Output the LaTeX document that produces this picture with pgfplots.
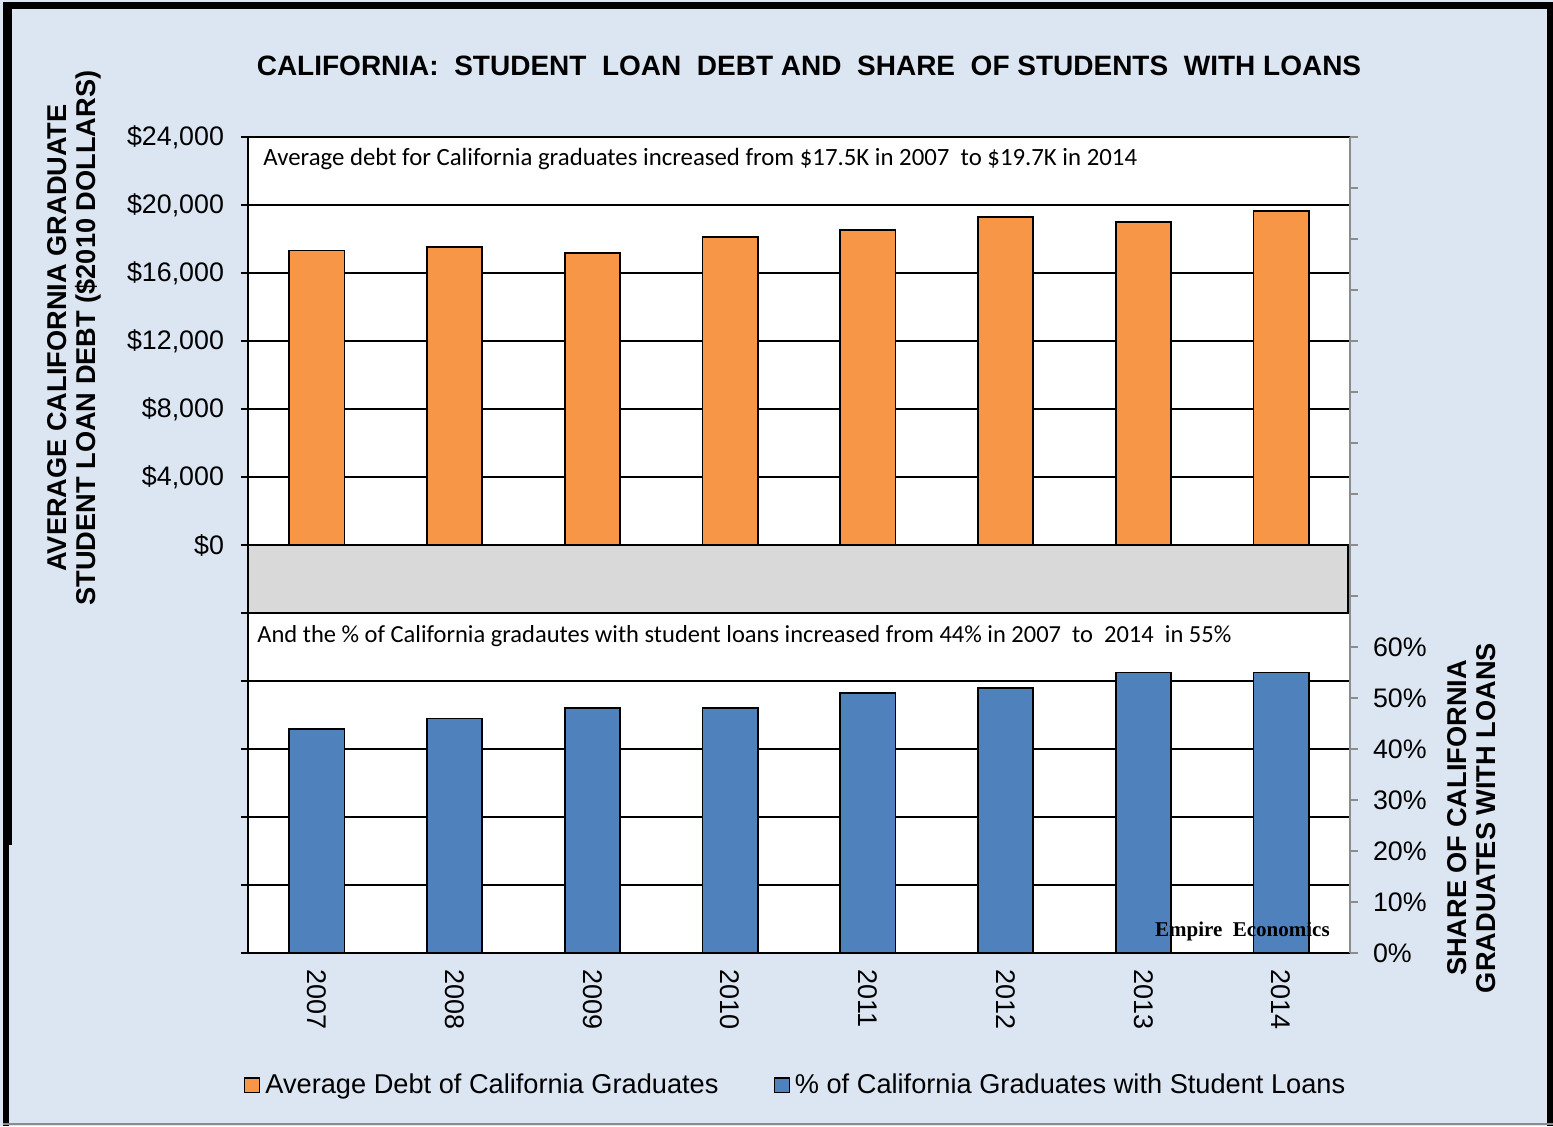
\documentclass[border=0pt]{standalone}
\usepackage{pgfplots}
\pgfplotsset{compat=1.18}
\usepackage{pgfplotstable}
\usepackage{fontspec}
\setmainfont{Liberation Sans}
\newfontfamily\calibri{Carlito}
\newfontfamily\timesf{Liberation Serif}
\definecolor{bgblue}{HTML}{DCE6F2}
\definecolor{barorange}{HTML}{F79646}
\definecolor{barblue}{HTML}{4F81BD}
\definecolor{bandgray}{HTML}{D9D9D9}
\definecolor{axgray}{HTML}{8C8C8C}

\pgfplotstableread{
x debt share
0 17320 44
1 17520 46
2 17200 48
3 18110 48
4 18530 51
5 19310 52
6 19020 55
7 19630 55
}\datatable

\pgfplotsset{
  sqleg/.style={legend image code/.code={\draw[##1,line width=0.6pt] (0pt,-3.6pt) rectangle (7.4pt,3.6pt);}},
}

\begin{document}
\begin{tikzpicture}
\useasboundingbox (0,0) rectangle (776.5pt,-563pt);
\begin{scope}[x=0.5pt,y=-0.5pt]
\fill[bgblue] (0,0) rectangle (1553,1126);
\fill[black] (3,2) rectangle (1553,9);
\fill[black] (3,2) rectangle (12,845);
\fill[black] (3,845) rectangle (9,1126);
\fill[black] (1547,2) rectangle (1553,1126);
\draw[axgray, line width=0.6pt] (3,1124) -- (1553,1124);
\node[font=\bfseries\fontsize{14}{16}\selectfont] at (809,66)
  {CALIFORNIA:\ \ STUDENT\ \ LOAN\ \ DEBT AND\ \ SHARE\ \ OF STUDENTS\ \ WITH LOANS};
\node[rotate=90, align=center, font=\bfseries\fontsize{13.6}{14.4}\selectfont] at (74,338)
  {AVERAGE CALIFORNIA GRADUATE\\STUDENT LOAN DEBT (\$2010 DOLLARS)};
\node[rotate=90, align=center, font=\bfseries\fontsize{13.6}{14.4}\selectfont] at (1472,818)
  {SHARE OF CALIFORNIA\\GRADUATES WITH LOANS};
\end{scope}

\begin{axis}[
  at={(124pt,-476.5pt)}, anchor=south west, scale only axis,
  width=551pt, height=408pt,
  xmin=-0.5, xmax=7.5, ymin=-24000, ymax=24000,
  ybar, bar width=0.4,
  axis background/.style={fill=white},
  ytick={-24000,-20000,...,24000},
  yticklabels={,,,,,,{\$0},{\$4,000},{\$8,000},{\$12,000},{\$16,000},{\$20,000},{\$24,000}},
  ytick pos=left, tick align=center, major tick length=7pt,
  ymajorgrids, grid style={black, line width=0.75pt},
  xtick={0,1,2,3,4,5,6,7},
  xticklabels={2007,2008,2009,2010,2011,2012,2013,2014},
  xtick pos=bottom, xtick style={draw=none},
  xticklabel style={rotate=-90, anchor=west, font=\fontsize{13.5}{16}\selectfont, xshift=1pt},
  yticklabel style={font=\fontsize{13.4}{16}\selectfont, xshift=-5pt},
  x axis line style={axgray, line width=0.75pt},
  y axis line style={black, line width=0.75pt},
  ytick style={black, line width=0.75pt},
  scaled y ticks=false,
  clip=false,
]
\addplot[fill=barorange, draw=black, line width=0.9pt] table[x=x,y=debt]{\datatable};
\draw[fill=bandgray, draw=black, line width=1pt] (rel axis cs:0,0.5) rectangle (rel axis cs:0.998,0.41667);
\node[anchor=west, inner sep=0pt, font=\calibri\fontsize{12.4}{14}\selectfont] at (rel axis cs:0.0136,0.973)
  {Average debt for California graduates increased from \$17.5K in 2007\ \ to \$19.7K in 2014};
\node[anchor=west, inner sep=0pt, font=\calibri\fontsize{12.25}{14}\selectfont] at (rel axis cs:0.0082,0.3885)
  {And the \% of California gradautes with student loans increased from 44\% in 2007\ \ to\ \ 2014\ \ in 55\%};
\end{axis}

\begin{axis}[
  at={(124pt,-476.5pt)}, anchor=south west, scale only axis,
  width=551pt, height=408pt,
  xmin=-0.5, xmax=7.5, ymin=0, ymax=160,
  ybar, bar width=0.4,
  hide x axis,
  axis y line*=right,
  y axis line style={-, axgray, line width=0.75pt},
  ytick={0,10,...,160},
  yticklabels={{0\%},{10\%},{20\%},{30\%},{40\%},{50\%},{60\%},,,,,,,,,,},
  tick align=outside, major tick length=4pt,
  ytick style={axgray, line width=0.75pt},
  yticklabel style={font=\fontsize{13.4}{16}\selectfont, xshift=4pt},
  legend style={at={(0.4985,-0.162)}, anchor=center, draw=none, fill=none,
    legend columns=2, font=\fontsize{13.6}{16}\selectfont,
    nodes={inner sep=2.6pt},
    /tikz/every even column/.append style={column sep=25pt}},
  clip=false,
]
\addlegendimage{fill=barorange, draw=black, sqleg}
\addlegendentry{Average Debt of California Graduates}
\addplot[fill=barblue, draw=black, line width=0.9pt, sqleg] table[x=x,y=share]{\datatable};
\addlegendentry{\% of California Graduates with Student Loans}
\node[anchor=east, inner sep=0pt, font=\timesf\bfseries\fontsize{10.5}{12}\selectfont] at (rel axis cs:0.982,0.027)
  {Empire\ \ Economics};
\end{axis}
\end{tikzpicture}
\end{document}
